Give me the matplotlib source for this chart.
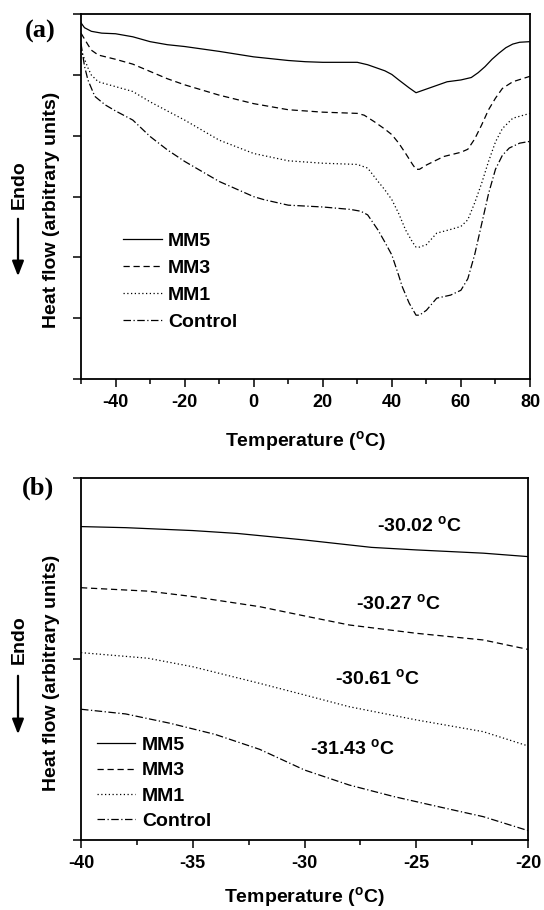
import matplotlib
matplotlib.use("Agg")
import matplotlib.pyplot as plt
from matplotlib.ticker import MultipleLocator

plt.rcParams['font.family'] = ['Liberation Sans', 'DejaVu Sans']
plt.rcParams['font.weight'] = 'bold'
plt.rcParams['axes.unicode_minus'] = False
plt.rcParams['mathtext.fontset'] = 'custom'
plt.rcParams['mathtext.rm'] = 'Liberation Sans:bold'
plt.rcParams['mathtext.it'] = 'Liberation Sans:bold'
plt.rcParams['mathtext.bf'] = 'Liberation Sans:bold'

# ---------------- data: panel (a) ----------------
t_mm5 = [-50, -49, -47, -44, -40, -35, -30, -25, -20, -10, 0, 10, 15, 20, 30, 33, 36, 38, 40, 42, 45, 47,
         49, 52, 56, 60, 63, 65, 67, 69, 71, 73, 75, 77, 80]
y_mm5 = [5.86, 5.78, 5.72, 5.69, 5.68, 5.63, 5.55, 5.50, 5.47, 5.39, 5.30, 5.24, 5.22, 5.21, 5.21, 5.17,
         5.11, 5.07, 5.01, 4.92, 4.79, 4.71, 4.75, 4.81, 4.89, 4.92, 4.96, 5.04, 5.14, 5.26, 5.36, 5.45,
         5.51, 5.54, 5.55]

t_mm3 = [-50, -48, -47, -45, -40, -35, -30, -25, -20, -10, 0, 10, 20, 25, 30, 32, 35, 38, 40, 42, 44, 46,
         47, 48, 50, 55, 60, 62, 64, 66, 68, 70, 72, 75, 80]
y_mm3 = [5.69, 5.50, 5.41, 5.33, 5.26, 5.18, 5.06, 4.94, 4.84, 4.67, 4.53, 4.43, 4.39, 4.38, 4.37, 4.34,
         4.23, 4.11, 4.02, 3.88, 3.71, 3.53, 3.45, 3.45, 3.52, 3.66, 3.73, 3.78, 3.95, 4.18, 4.43, 4.62,
         4.78, 4.89, 4.98]

t_mm1 = [-50, -48, -47, -45, -40, -35, -30, -25, -20, -10, 0, 10, 20, 30, 33, 36, 38, 40, 42, 44, 46, 47,
         48, 50, 53, 57, 60, 62, 64, 66, 68, 70, 72, 75, 80]
y_mm1 = [5.41, 5.12, 5.00, 4.89, 4.81, 4.73, 4.56, 4.41, 4.26, 3.93, 3.71, 3.59, 3.55, 3.53, 3.47, 3.25,
         3.11, 2.95, 2.72, 2.45, 2.25, 2.17, 2.17, 2.21, 2.40, 2.46, 2.51, 2.62, 2.90, 3.22, 3.58, 3.90,
         4.12, 4.29, 4.37]

t_ctl = [-50, -49, -48, -46, -43, -40, -35, -30, -25, -20, -10, 0, 3, 10, 20, 28, 31, 33, 36, 38, 40, 42,
         43, 45, 47, 48, 50, 53, 57, 60, 62, 64, 66, 68, 70, 72, 74, 77, 80]
y_ctl = [5.52, 5.15, 4.92, 4.65, 4.51, 4.41, 4.26, 3.99, 3.77, 3.58, 3.25, 3.00, 2.95, 2.86, 2.83, 2.79,
         2.76, 2.70, 2.45, 2.25, 2.04, 1.70, 1.52, 1.25, 1.05, 1.05, 1.13, 1.33, 1.38, 1.46, 1.65, 2.05,
         2.55, 3.05, 3.45, 3.68, 3.80, 3.88, 3.91]

# ---------------- data: panel (b) ----------------
tb_mm5 = [-40, -38, -35, -33, -30, -27, -25, -22, -20]
yb_mm5 = [1.733, 1.727, 1.711, 1.695, 1.659, 1.618, 1.604, 1.586, 1.567]
tb_mm3 = [-40, -37, -35, -32, -30, -28, -25, -22, -20]
yb_mm3 = [1.395, 1.376, 1.346, 1.290, 1.239, 1.189, 1.143, 1.106, 1.054]
tb_mm1 = [-40, -37, -35, -32, -30, -28, -25, -22, -20]
yb_mm1 = [1.036, 1.005, 0.958, 0.866, 0.802, 0.737, 0.664, 0.599, 0.520]
tb_ctl = [-40, -38, -36, -34, -32, -30, -28, -26, -24, -22, -20]
yb_ctl = [0.723, 0.697, 0.645, 0.584, 0.501, 0.387, 0.304, 0.240, 0.184, 0.129, 0.052]

labels = ['MM5', 'MM3', 'MM1', 'Control']
tg_labels = ['-30.02 $^{\\mathrm{o}}$C', '-30.27 $^{\\mathrm{o}}$C', '-30.61 $^{\\mathrm{o}}$C', '-31.43 $^{\\mathrm{o}}$C']
tg_x = [-24.83, -25.77, -26.75, -27.87]
tg_y = [1.742, 1.309, 0.894, 0.507]

styles = [dict(linestyle='-'),
          dict(linestyle=(0, (5, 3))),
          dict(linestyle=(0, (1, 2))),
          dict(linestyle=(0, (6, 2, 1, 2)))]

W, H = 544, 910
fig = plt.figure(figsize=(W / 100, H / 100), dpi=100)

def frac_box(l, r, t, b):
    return [l / W, 1 - b / H, (r - l) / W, (b - t) / H]

ax1 = fig.add_axes(frac_box(81, 530, 14.3, 379))
ax2 = fig.add_axes(frac_box(81, 528, 478.3, 840))

TICK_FS = 13
LAB_FS = 14
LEG_FS = 14

lw = 0.9
for ax in (ax1, ax2):
    for s in ax.spines.values():
        s.set_linewidth(1.3)
    ax.tick_params(direction='out', width=1.1, labelsize=TICK_FS, pad=5)
    ax.tick_params(which='major', length=6)
    ax.tick_params(which='minor', length=3.5, width=1.1)
    ax.tick_params(axis='y', labelleft=False)

series_a = [(t_mm5, y_mm5), (t_mm3, y_mm3), (t_mm1, y_mm1), (t_ctl, y_ctl)]
for (t, y), st, lab in zip(series_a, styles, labels):
    ax1.plot(t, y, color='black', lw=lw, label=lab, **st)
ax1.set_xlim(-50, 80)
ax1.set_ylim(0, 6)
ax1.xaxis.set_minor_locator(MultipleLocator(10))
ax1.yaxis.set_major_locator(MultipleLocator(1))
ax1.set_xticks([-40, -20, 0, 20, 40, 60, 80])
ax1.set_xlabel('Temperature ($^{\\mathrm{o}}$C)', fontsize=LAB_FS, fontweight='bold', labelpad=13)
ax1.legend(loc='lower left', bbox_to_anchor=(0.094, 0.132), frameon=False, fontsize=LEG_FS,
           handlelength=2.0, handletextpad=0.3, labelspacing=0.48, borderaxespad=0, borderpad=0)

series_b = [(tb_mm5, yb_mm5), (tb_mm3, yb_mm3), (tb_mm1, yb_mm1), (tb_ctl, yb_ctl)]
for (t, y), st, lab in zip(series_b, styles, labels):
    ax2.plot(t, y, color='black', lw=lw, label=lab, **st)
ax2.set_xlim(-40, -20)
ax2.set_ylim(0, 2)
ax2.xaxis.set_major_locator(MultipleLocator(5))
ax2.xaxis.set_minor_locator(MultipleLocator(2.5))
ax2.yaxis.set_major_locator(MultipleLocator(1))
ax2.set_xlabel('Temperature ($^{\\mathrm{o}}$C)', fontsize=LAB_FS, fontweight='bold', labelpad=9)
ax2.legend(loc='lower left', bbox_to_anchor=(0.036, 0.028), frameon=False, fontsize=LEG_FS,
           handlelength=1.95, handletextpad=0.35, labelspacing=0.39, borderaxespad=0, borderpad=0)
for x, y, s in zip(tg_x, tg_y, tg_labels):
    ax2.text(x, y, s, ha='center', va='center', fontsize=LAB_FS, fontweight='bold')

for ax in (ax1, ax2):
    for lab in ax.get_xticklabels():
        lab.set_fontweight('bold')

# y labels with "Endo" arrow
def ylabel_block(y_heat, y_endo, y_arrow_top, y_arrow_bot):
    fig.text(52 / W, 1 - y_heat / H, 'Heat flow (arbitrary units)', rotation=90,
             ha='center', va='center', fontsize=LAB_FS, fontweight='bold')
    fig.text(19 / W, 1 - y_endo / H, 'Endo', rotation=90, ha='center', va='center',
             fontsize=LAB_FS, fontweight='bold')
    fig.add_artist(matplotlib.patches.FancyArrowPatch(
        (18 / W, 1 - y_arrow_top / H), (18 / W, 1 - y_arrow_bot / H),
        transform=fig.transFigure, arrowstyle='-|>,head_length=9,head_width=3.5',
        color='black', lw=1.6, mutation_scale=1))

ylabel_block(210, 185, 216, 279)
ylabel_block(673, 640, 673, 737)

fig.text(40 / W, 1 - 31 / H, '(a)', fontsize=19, fontweight='bold', family='Liberation Serif',
         ha='center', va='center')
fig.text(38 / W, 1 - 488 / H, '(b)', fontsize=19, fontweight='bold', family='Liberation Serif',
         ha='center', va='center')

fig.savefig('out.png', dpi=100)
